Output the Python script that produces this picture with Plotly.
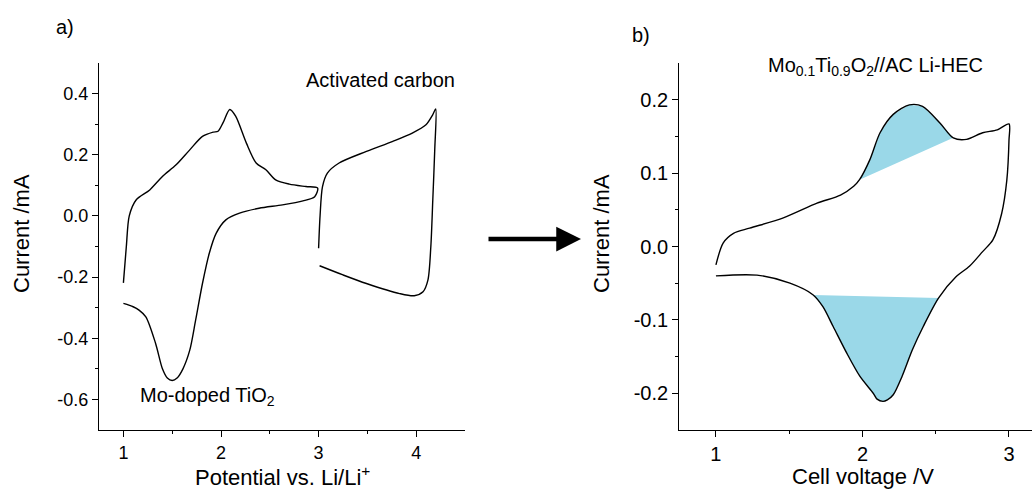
import numpy as np
import plotly.graph_objects as go

# ---- Panel a: half-cell CVs (potential vs. Li/Li+, current in mA) ----
tio2_v = [1.00, 1.03, 1.06, 1.13, 1.27, 1.40, 1.54, 1.68, 1.81, 1.92, 1.97, 2.02, 2.09,
          2.15, 2.26, 2.36, 2.46, 2.56, 2.70, 2.87, 2.99,
          2.96, 2.84, 2.63, 2.39, 2.19, 2.05, 1.95, 1.88, 1.81, 1.74, 1.68, 1.61,
          1.55, 1.50, 1.45, 1.40, 1.33, 1.23, 1.16, 1.10, 1.00]
tio2_i = [-0.219, -0.10, 0.000, 0.052, 0.085, 0.129, 0.167, 0.216, 0.260, 0.274, 0.277, 0.304, 0.348,
          0.326, 0.238, 0.173, 0.151, 0.118, 0.104, 0.096, 0.091,
          0.063, 0.049, 0.036, 0.025, 0.009, -0.013, -0.057, -0.122, -0.221, -0.341, -0.439, -0.500,
          -0.530, -0.538, -0.530, -0.500, -0.417, -0.330, -0.308, -0.297, -0.286]

ac_v = [3.00, 3.015, 3.04, 3.09, 3.21, 3.49, 3.76, 3.96, 4.10, 4.17, 4.20,
        4.19, 4.17, 4.15, 4.12, 4.07, 3.98, 3.83, 3.49, 3.25, 3.01]
ac_i = [-0.106, 0.000, 0.096, 0.140, 0.173, 0.211, 0.244, 0.271, 0.298, 0.331, 0.350,
        0.216, 0.052, -0.100, -0.210, -0.248, -0.261, -0.254, -0.221, -0.193, -0.163]

# ---- Panel b: full cell Mo0.1Ti0.9O2//AC (cell voltage, current in mA) ----
cell_up_v = [1.00, 1.05, 1.12, 1.23, 1.46, 1.69, 1.85, 1.94, 1.98, 2.05, 2.12, 2.21,
             2.32, 2.41, 2.53, 2.62, 2.71, 2.82, 2.92, 3.00]
cell_up_i = [-0.025, 0.005, 0.018, 0.025, 0.039, 0.059, 0.070, 0.082, 0.091, 0.118, 0.155, 0.180,
             0.193, 0.191, 0.168, 0.148, 0.146, 0.155, 0.159, 0.167]

cell_down_v = [3.00, 2.985, 2.95, 2.89, 2.82, 2.73, 2.64, 2.52, 2.415, 2.34, 2.27, 2.21,
               2.17, 2.14, 2.10, 2.074, 1.983, 1.892, 1.80, 1.73, 1.664, 1.505, 1.28, 1.00]
cell_down_i = [0.145, 0.090, 0.045, 0.009, -0.007, -0.027, -0.041, -0.070, -0.109, -0.141, -0.177, -0.202,
               -0.209, -0.211, -0.208, -0.200, -0.177, -0.145, -0.109, -0.082, -0.066, -0.050, -0.039, -0.040]

# voltage windows of the shaded redox peaks
ox_peak = (1.98, 2.62)
red_peak = (1.664, 2.52)

# ---- labels ----
label_a = "a)"
label_b = "b)"
text_ac = "Activated carbon"
text_tio2 = "Mo-doped TiO<sub>2</sub>"
text_cell = "Mo<sub>0.1</sub>Ti<sub>0.9</sub>O<sub>2</sub>//AC Li-HEC"
xtitle_a = "Potential vs. Li/Li<sup>+</sup>"
xtitle_b = "Cell voltage /V"
ytitle = "Current /mA"

ticks_a_x = [1, 2, 3, 4]
ticks_a_y = [-0.6, -0.4, -0.2, 0.0, 0.2, 0.4]
ticks_b_x = [1, 2, 3]
ticks_b_y = [-0.2, -0.1, 0.0, 0.1, 0.2]

FONT = "Liberation Sans, Arial, sans-serif"
FILL = "#9ad8e8"
W, H = 1032, 490


def peak_polygon(v, i, lo, hi):
    v = np.asarray(v, float)
    i = np.asarray(i, float)
    order = np.argsort(v, kind="stable")
    vs, is_ = v[order], i[order]
    inside = (vs > lo) & (vs < hi)
    px = [lo] + list(vs[inside]) + [hi]
    py = [np.interp(lo, vs, is_)] + list(is_[inside]) + [np.interp(hi, vs, is_)]
    return px, py


def fmt(vals, nd):
    return [f"{t:.{nd}f}" if t != 0 else f"{0:.{nd}f}" for t in vals]


fig = go.Figure()

line_style = dict(color="black", width=1.4, shape="spline", smoothing=0.8)

fig.add_trace(go.Scatter(x=tio2_v, y=tio2_i, mode="lines", line=line_style,
                         xaxis="x", yaxis="y", showlegend=False, hoverinfo="skip"))
fig.add_trace(go.Scatter(x=ac_v, y=ac_i, mode="lines", line=line_style,
                         xaxis="x", yaxis="y", showlegend=False, hoverinfo="skip"))

for (v, i), (lo, hi) in [((cell_up_v, cell_up_i), ox_peak), ((cell_down_v, cell_down_i), red_peak)]:
    px, py = peak_polygon(v, i, lo, hi)
    fig.add_trace(go.Scatter(x=px, y=py, mode="lines", fill="toself", fillcolor=FILL,
                             line=dict(width=0, color=FILL), xaxis="x2", yaxis="y2",
                             showlegend=False, hoverinfo="skip"))

fig.add_trace(go.Scatter(x=cell_up_v + cell_down_v, y=cell_up_i + cell_down_i, mode="lines",
                         line=line_style, xaxis="x2", yaxis="y2", showlegend=False,
                         hoverinfo="skip"))

ydom = [1 - 430 / H, 1 - 63 / H]
axis_common = dict(showline=True, linecolor="black", linewidth=1.3, ticks="outside",
                   ticklen=6, tickwidth=1.3, tickcolor="black", showgrid=False,
                   zeroline=False, mirror=False)

fig.update_layout(
    width=W, height=H, margin=dict(l=0, r=0, t=0, b=0),
    paper_bgcolor="white", plot_bgcolor="white",
    font=dict(family=FONT, color="black"),
    xaxis=dict(domain=[99 / W, 465 / W], range=[0.75, 4.5], anchor="y",
               tickvals=ticks_a_x, ticktext=[str(t) for t in ticks_a_x],
               tickfont=dict(size=18),
               minor=dict(tickvals=[1.5, 2.5, 3.5], ticks="outside", ticklen=3,
                          tickwidth=1.2, tickcolor="black", showgrid=False),
               **axis_common),
    yaxis=dict(domain=ydom, range=[-0.7, 0.5], anchor="x",
               tickvals=ticks_a_y, ticktext=fmt(ticks_a_y, 1),
               tickfont=dict(size=18),
               minor=dict(tickvals=[-0.5, -0.3, -0.1, 0.1, 0.3], ticks="outside", ticklen=3,
                          tickwidth=1.2, tickcolor="black", showgrid=False),
               **axis_common),
    xaxis2=dict(domain=[679.3 / W, 1.0], range=[0.75, 3.157], anchor="y2",
                tickvals=ticks_b_x, ticktext=[str(t) for t in ticks_b_x],
                tickfont=dict(size=20),
                minor=dict(tickvals=[1.5, 2.5], ticks="outside", ticklen=3,
                           tickwidth=1.2, tickcolor="black", showgrid=False),
                **axis_common),
    yaxis2=dict(domain=ydom, range=[-0.25, 0.25], anchor="x2",
                tickvals=ticks_b_y, ticktext=fmt(ticks_b_y, 1),
                tickfont=dict(size=20),
                minor=dict(tickvals=[-0.15, -0.05, 0.05, 0.15], ticks="outside", ticklen=3,
                           tickwidth=1.2, tickcolor="black", showgrid=False),
                **axis_common),
)


def px_ann(text, x, y, size, angle=0, xanchor="center"):
    fig.add_annotation(text=text, x=x / W, y=1 - y / H, xref="paper", yref="paper",
                       showarrow=False, font=dict(size=size, family=FONT, color="black"),
                       textangle=angle, xanchor=xanchor, yanchor="middle")


px_ann(label_a, 65, 27, 20)
px_ann(label_b, 641, 35, 20)
px_ann(text_ac, 380.5, 80, 20)
px_ann(text_tio2, 207.5, 396, 20)
px_ann(text_cell, 875.5, 66, 20)
px_ann(xtitle_a, 282, 476, 22)
px_ann(xtitle_b, 862.5, 476, 22)
px_ann(ytitle, 22, 234, 22, angle=-90)
px_ann(ytitle, 602, 234, 22, angle=-90)

# arrow from the half-cell panel to the full-cell panel
fig.add_annotation(x=581 / W, y=1 - 239 / H, ax=-94, ay=0,
                   xref="paper", yref="paper", axref="pixel", ayref="pixel",
                   text="", showarrow=True, arrowhead=2, arrowsize=1.1, arrowwidth=4.5,
                   arrowcolor="black", standoff=0, startstandoff=0)

fig.write_html("out.html")
